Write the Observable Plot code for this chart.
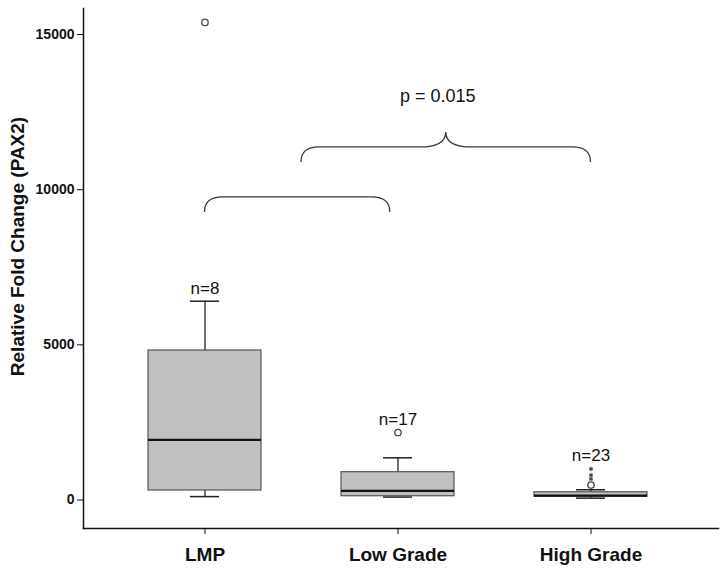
<!DOCTYPE html>
<html>
<head>
<meta charset="utf-8">
<script src="https://cdn.jsdelivr.net/npm/d3@7"></script>
<script src="https://cdn.jsdelivr.net/npm/@observablehq/plot@0.6"></script>
<style>
  body { margin: 0; background: #fff; }
  svg { display: block; }
</style>
</head>
<body>
<div id="chart"></div>
<script>
// ---- data ----
const groups      = ["LMP", "Low Grade", "High Grade"];
const nLabels     = ["n=8", "n=17", "n=23"];
const whiskerLow  = [110, 95, 60];
const q1          = [306, 122, 105];
const median      = [1940, 296, 140];
const q3          = [4818, 896, 250];
const whiskerHigh = [6406, 1360, 330];
// mild outliers (circles) and extreme values (stars)
const outlierGroup = ["LMP", "Low Grade", "High Grade"];
const outlierValue = [15390, 2175, 480];
const extremeGroup = ["High Grade", "High Grade", "High Grade"];
const extremeValue = [1000, 800, 680];
// where the n= labels sit (value units)
const nAnchor = [6406, 2175, 1000];
const yTicks = [0, 5000, 10000, 15000];
const yLabel = "Relative Fold Change (PAX2)";
const pLabel = "p = 0.015";
// significance braces: between category positions, at a value level
const braces = [
  {from: "LMP", fromOffset: 0, to: "Low Grade", toOffset: -0.04, level: 9750, cusp: false},
  {from: "LMP", fromOffset: 0.5, to: "High Grade", toOffset: 0, level: 11360, cusp: true}
];

const boxes = groups.map((g, i) => ({
  group: g, lo: whiskerLow[i], q1: q1[i], med: median[i], q3: q3[i], hi: whiskerHigh[i],
  n: nLabels[i], anchor: nAnchor[i]
}));
const outliers = outlierGroup.map((g, i) => ({group: g, v: outlierValue[i]}));
const extremes = extremeGroup.map((g, i) => ({group: g, v: extremeValue[i]}));

const FONT = "'Liberation Sans', Arial, Helvetica, sans-serif";

function braceMark(index, scales, values, dims) {
  const ns = "http://www.w3.org/2000/svg";
  const g = document.createElementNS(ns, "g");
  const step = scales.x.step ? scales.x.step() : (scales.x("Low Grade") - scales.x("LMP"));
  const bw = scales.x.bandwidth ? scales.x.bandwidth() : 0;
  let cuspX = null, cuspY = null;
  for (const b of braces) {
    const x1 = scales.x(b.from) + bw / 2 + b.fromOffset * step;
    const x2 = scales.x(b.to) + bw / 2 + b.toOffset * step;
    const y = scales.y(b.level);
    const h = 15, w = 18;
    const p = d3.path();
    p.moveTo(x1, y + h);
    p.bezierCurveTo(x1, y + 5, x1 + 6, y, x1 + w, y);
    if (b.cusp) {
      const xc = (x1 + x2) / 2;
      p.lineTo(xc - 26, y);
      p.bezierCurveTo(xc - 10, y, xc, y - 4, xc, y - 15);
      p.bezierCurveTo(xc, y - 4, xc + 10, y, xc + 26, y);
      cuspX = xc; cuspY = y - 15;
    }
    p.lineTo(x2 - w, y);
    p.bezierCurveTo(x2 - 6, y, x2, y + 5, x2, y + h);
    const path = document.createElementNS(ns, "path");
    path.setAttribute("d", p.toString());
    path.setAttribute("fill", "none");
    path.setAttribute("stroke", "#3a3a3a");
    path.setAttribute("stroke-width", "1.3");
    g.appendChild(path);
  }
  if (cuspX != null) {
    const t = document.createElementNS(ns, "text");
    t.setAttribute("x", cuspX - 8);
    t.setAttribute("y", cuspY - 30);
    t.setAttribute("text-anchor", "middle");
    t.setAttribute("font-family", FONT);
    t.setAttribute("font-size", "18");
    t.setAttribute("fill", "#111");
    t.textContent = pLabel;
    g.appendChild(t);
  }
  return g;
}

const chart = Plot.plot({
  width: 724,
  height: 576,
  marginLeft: 83,
  marginRight: 6,
  marginTop: 8,
  marginBottom: 48,
  style: {fontFamily: FONT, background: "#fff"},
  x: {domain: groups, paddingInner: 0.414, paddingOuter: 0.35, align: 0.48, label: null},
  y: {domain: [-918, 15838], label: null},
  marks: [
    // axes
    Plot.axisY({ticks: yTicks, tickSize: 6, tickPadding: 3, tickFormat: d => String(d),
      fontSize: 14, fontWeight: "bold", fill: "#111", stroke: "#111", label: null}),
    Plot.axisX({tickSize: 6, tickPadding: 13, fontSize: 19, fontWeight: "bold",
      fill: "#111", stroke: "#111", label: null}),
    Plot.frame({anchor: "left", stroke: "#111", strokeWidth: 1.5}),
    Plot.frame({anchor: "bottom", stroke: "#111", strokeWidth: 1.5}),
    Plot.text([yLabel], {frameAnchor: "left", textAnchor: "middle", dx: -66, dy: -22, rotate: -90,
      fontSize: 19, fontWeight: "bold", fill: "#111"}),
    // whiskers
    Plot.ruleX(boxes, {x: "group", y1: "lo", y2: "q1", stroke: "#222", strokeWidth: 1.3}),
    Plot.ruleX(boxes, {x: "group", y1: "q3", y2: "hi", stroke: "#222", strokeWidth: 1.3}),
    Plot.tickY(boxes, {x: "group", y: "lo", insetLeft: 42, insetRight: 42, stroke: "#222", strokeWidth: 1.5}),
    Plot.tickY(boxes, {x: "group", y: "hi", insetLeft: 42, insetRight: 42, stroke: "#222", strokeWidth: 1.5}),
    // boxes
    Plot.rectY(boxes, {x: "group", y1: "q1", y2: "q3", fill: "#c0c0c0", stroke: "#555", strokeWidth: 1.2}),
    Plot.tickY(boxes, {x: "group", y: "med", stroke: "#111", strokeWidth: 2.2}),
    // outliers
    Plot.dot(outliers, {x: "group", y: "v", r: 3.2, stroke: "#444", fill: "#fff", strokeWidth: 1.3}),
    Plot.dot(extremes, {x: "group", y: "v", symbol: "asterisk", r: 2.2, stroke: "#333", strokeWidth: 1}),
    // n labels
    Plot.text(boxes, {x: "group", y: "anchor", text: "n", dy: -13, fontSize: 17, fill: "#111"}),
    // braces + p value
    braceMark
  ]
});
document.getElementById("chart").appendChild(chart);
</script>
</body>
</html>
